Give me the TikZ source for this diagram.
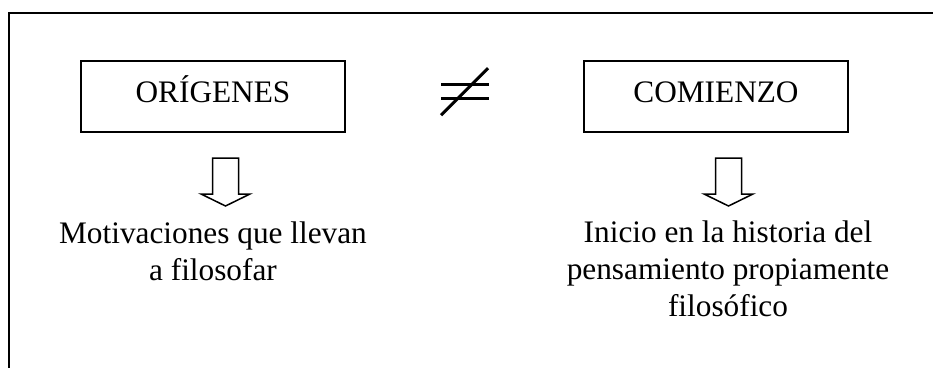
\documentclass[tikz,border=0pt]{standalone}
\usepackage{fontspec}
\setmainfont{Liberation Serif}
\usepackage{tikz}
\usetikzlibrary{calc}
\tikzstyle{flecha}=[line width=1.5pt, line join=miter]

\begin{document}
\begin{tikzpicture}[x=1pt,y=-1pt,
          caja/.style={draw=black,line width=2pt,minimum width=264pt,minimum height=71pt,
                       inner sep=0pt,text height=22pt,text depth=10pt},
          texto/.style={align=center,inner sep=0pt},
          font=\fontsize{31.3}{37}\selectfont]
        \useasboundingbox (0,0) rectangle (933,367);
        \draw[line width=2pt] (8.5,380) -- (8.5,13) -- (945,13);
        \node [caja] (orig) at (213,96.5) {ORÍGENES};
        \node [caja] (comi) at (716,96.5) {COMIENZO};
        \coordinate (dist) at (465,91.7);
        \draw[line width=2.7pt] ($(dist)+(-24,-7)$) -- ($(dist)+(24,-7)$)
                                ($(dist)+(-24,7)$) -- ($(dist)+(24,7)$);
        \draw[line width=3pt] ($(dist)+(-24,23.5)$) -- ($(dist)+(23,-23.5)$);
        \node [texto] (motiv) at (213,251) {Motivaciones que llevan\\a filosofar};
        \node [texto] (inicio) at (728,269) {Inicio en la historia del\\pensamiento propiamente\\filosófico};
        \foreach \a in {orig,comi}
          \draw[flecha] ($(\a.south)+(12.5,25)$) ++(-13,0) -- ++(26,0) -- ++(0,36) -- ++(11.5,0)
                        -- ++(-24.5,12) -- ++(-24.5,-12) -- ++(11.5,0) -- cycle;
      \end{tikzpicture}
\end{document}
